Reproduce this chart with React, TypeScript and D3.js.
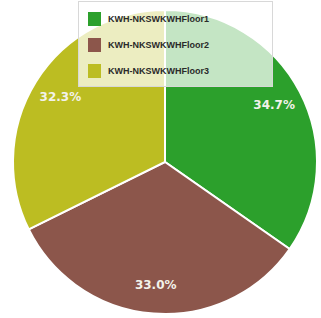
import React from 'react'
import * as d3 from 'd3'

const labels = ['KWH-NKSWKWHFloor1', 'KWH-NKSWKWHFloor2', 'KWH-NKSWKWHFloor3']
const values = [34.7, 33.0, 32.3]
const colors = ['#2ca02c', '#8c564b', '#bcbd22']

const W = 321
const H = 318

export default function App() {
  const cx = 165
  const cy = 162
  const radius = 152

  const pie = d3
    .pie<number>()
    .sort(null)
    .value(d => d)
  const arcs = pie(values)
  const arc = d3.arc<d3.PieArcDatum<number>>().innerRadius(0).outerRadius(radius)
  const labelArc = d3
    .arc<d3.PieArcDatum<number>>()
    .innerRadius(radius * 0.81)
    .outerRadius(radius * 0.81)

  const total = d3.sum(values)
  const fmt = d3.format('.1f')

  return (
    <svg
      width={W}
      height={H}
      style={{position: 'absolute', left: 0, top: 0, background: '#fff'}}
    >
      <g transform={`translate(${cx},${cy})`}>
        {arcs.map((a, i) => (
          <path
            key={i}
            d={arc(a) || ''}
            fill={colors[i]}
            stroke="#fff"
            strokeWidth={2}
          />
        ))}
        {arcs.map((a, i) => {
          const [x, y] = labelArc.centroid(a)
          return (
            <text
              key={i}
              x={x}
              y={y}
              textAnchor="middle"
              dominantBaseline="central"
              fill="#f2f2ea"
              fontFamily="'DejaVu Sans', Verdana, sans-serif"
              fontWeight="bold"
              fontSize={12}
            >
              {fmt((values[i] / total) * 100)}%
            </text>
          )
        })}
      </g>
      <g className="legend">
        <rect
          x={78.5}
          y={1.5}
          width={194}
          height={85}
          fill="#fff"
          fillOpacity={0.72}
          stroke="#d8d8d8"
        />
        {labels.map((l, i) => (
          <g key={l} transform={`translate(88,${12 + i * 26})`}>
            <rect width={13} height={14} fill={colors[i]} />
            <text
              x={20}
              y={7}
              dominantBaseline="central"
              fill="#2a2a2a"
              fontFamily="'Liberation Sans', Arial, sans-serif"
              fontWeight="bold"
              fontSize={9}
            >
              {l}
            </text>
          </g>
        ))}
      </g>
    </svg>
  )
}
